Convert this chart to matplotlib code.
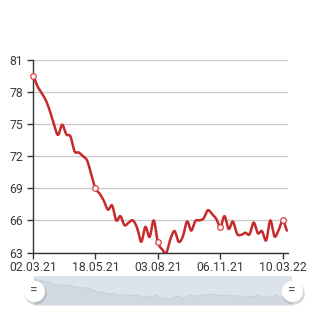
import numpy as np
import matplotlib
matplotlib.use("Agg")
import matplotlib.pyplot as plt

# values (one point per step of the category axis)
values = [79.5, 78.6, 77.95, 77.3, 76.3, 75.0, 74.0, 74.95, 74.05, 73.85,
          72.45, 72.35, 72.0, 71.6, 70.3, 69.0, 68.5, 67.85, 67.0, 67.4,
          66.0, 66.4, 65.55, 65.8, 66.0, 65.3, 64.0, 65.4, 64.45, 66.0,
          63.95, 63.3, 62.97, 64.25, 65.0, 64.0, 64.5, 65.9, 65.05, 65.95,
          66.0, 66.2, 66.95, 66.6, 66.15, 65.4, 66.4, 65.2, 65.9, 64.75,
          64.65, 64.85, 64.7, 65.8, 64.8, 65.0, 64.13, 66.0, 64.5, 65.1,
          66.0, 65.05]
tick_idx = [0, 15, 30, 45, 60]
tick_labels = ['02.03.21', '18.05.21', '03.08.21', '06.11.21', '10.03.22']
y_ticks = [63, 66, 69, 72, 75, 78, 81]

RED = '#c62a2a'
TXT = '#3a3a3a'


def smooth(y, k=12):
    # catmull-rom through the points
    y = np.asarray(y, float)
    p = np.concatenate([[y[0]], y, [y[-1]]])
    xs, ys = [], []
    for i in range(len(y) - 1):
        p0, p1, p2, p3 = p[i], p[i + 1], p[i + 2], p[i + 3]
        t = np.linspace(0, 1, k, endpoint=False)
        seg = 0.5 * ((2 * p1) + (-p0 + p2) * t + (2 * p0 - 5 * p1 + 4 * p2 - p3) * t**2
                     + (-p0 + 3 * p1 - 3 * p2 + p3) * t**3)
        xs.append(i + t)
        ys.append(seg)
    xs.append([len(y) - 1])
    ys.append([y[-1]])
    return np.concatenate(xs), np.concatenate(ys)


plt.rcParams['font.family'] = ['Roboto', 'DejaVu Sans']

fig = plt.figure(figsize=(3.2, 3.13), dpi=100)
ax = fig.add_axes([33 / 320, 1 - 252.5 / 313, 255 / 320, 192.5 / 313])

sx, sy = smooth(values)
ax.plot(sx, sy, color=RED, lw=1.8, solid_capstyle='round', zorder=3)
ax.scatter(tick_idx, [values[i] for i in tick_idx], s=16, facecolor='white',
           edgecolor='#d94040', linewidth=0.9, zorder=4, clip_on=False)

ax.set_xlim(0, len(values) - 1 + 0.25)
ax.set_ylim(63, 81)
ax.set_yticks(y_ticks)
ax.set_xticks(tick_idx)
ax.set_xticklabels(tick_labels)
ax.grid(axis='y', color='#cccccc', lw=1)
ax.set_axisbelow(True)
for s in ['top', 'right']:
    ax.spines[s].set_visible(False)
for s in ['left', 'bottom']:
    ax.spines[s].set_color('#333333')
    ax.spines[s].set_linewidth(1)
ax.tick_params(axis='both', colors='#333333', labelcolor=TXT, labelsize=8.8,
               length=4, width=1, pad=2)
ax.tick_params(axis='y', pad=3)

# scrollbar with mini series
sb = fig.add_axes([34 / 320, 1 - 305 / 313, 258 / 320, 29 / 313])
sb.set_facecolor('#dde3ec')
sb.fill_between(sx, sy, 58, color='#d1d8e2', lw=0)
sb.plot(sx, sy, color='#c2cad6', lw=0.6)
sb.set_xlim(0, len(values) - 1)
sb.set_ylim(58, 82)
sb.set_xticks([])
sb.set_yticks([])
for s in sb.spines.values():
    s.set_visible(False)

for gx in [0, len(values) - 1]:
    sb.scatter([gx + 0.2], [68.3], s=260, color='#8a8a8a', alpha=0.35,
               lw=0, clip_on=False, zorder=5)
    sb.scatter([gx], [69.5], s=230, color='white', lw=0, clip_on=False, zorder=6)
    sb.text(gx, 69.3, '=', ha='center', va='center', fontsize=10, color='#555555',
            zorder=7, clip_on=False)

fig.savefig('out.png', dpi=100)
